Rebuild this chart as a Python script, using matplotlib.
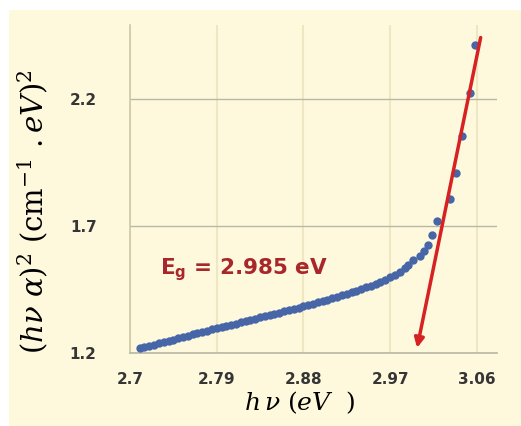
import numpy as np
import matplotlib.pyplot as plt
from matplotlib.patches import Rectangle

plt.rcParams['mathtext.fontset'] = 'custom'
plt.rcParams['mathtext.rm'] = 'DejaVu Serif'
plt.rcParams['mathtext.it'] = 'DejaVu Serif:italic'
plt.rcParams['mathtext.bf'] = 'DejaVu Sans:bold'

# (h nu) in eV and (h nu alpha)^2
hv = [2.710, 2.715, 2.720, 2.725, 2.730, 2.735, 2.740, 2.745, 2.750, 2.755,
      2.760, 2.765, 2.770, 2.775, 2.780, 2.785, 2.790, 2.795, 2.800, 2.805,
      2.810, 2.815, 2.820, 2.825, 2.830, 2.835, 2.840, 2.845, 2.850, 2.855,
      2.860, 2.865, 2.870, 2.875, 2.880, 2.885, 2.890, 2.895, 2.900, 2.905,
      2.910, 2.915, 2.920, 2.925, 2.930, 2.935, 2.940, 2.945, 2.950, 2.955,
      2.960, 2.965, 2.970, 2.975, 2.980, 2.985, 2.989, 2.994, 3.001, 3.005,
      3.009, 3.014, 3.019, 3.032, 3.038, 3.045, 3.053, 3.058]
ahv2 = [1.218, 1.223, 1.228, 1.233, 1.238, 1.243, 1.248, 1.253, 1.258, 1.263,
        1.268, 1.273, 1.278, 1.283, 1.288, 1.293, 1.298, 1.302, 1.307, 1.312,
        1.316, 1.321, 1.326, 1.330, 1.335, 1.340, 1.345, 1.349, 1.354, 1.359,
        1.364, 1.368, 1.373, 1.378, 1.383, 1.388, 1.393, 1.399, 1.404, 1.410,
        1.415, 1.421, 1.427, 1.432, 1.438, 1.444, 1.451, 1.458, 1.465, 1.472,
        1.480, 1.489, 1.498, 1.508, 1.520, 1.534, 1.548, 1.564, 1.583, 1.603,
        1.623, 1.666, 1.718, 1.805, 1.908, 2.054, 2.224, 2.410]

# linear fit line (top end, arrow tip)
fit_x = [3.064, 2.998]
fit_y = [2.441, 1.220]

xticks = [2.7, 2.79, 2.88, 2.97, 3.06]
yticks = [1.2, 1.7, 2.2]

bg = '#FEF9DC'
fig = plt.figure(figsize=(5.21, 4.26), dpi=100, facecolor='white')
fig.patches.append(Rectangle((9 / 521, 0), 1, 416 / 426, transform=fig.transFigure,
                             facecolor=bg, edgecolor='none', zorder=-5))
ax = fig.add_axes([0.2495, 0.1714, 0.7045, 0.7696], facecolor=bg)

ax.plot(hv, ahv2, 'o', color='#4666A8', ms=6, mew=0, zorder=3)

ax.annotate('', xy=(fit_x[1], fit_y[1]), xytext=(fit_x[0], fit_y[0]),
            arrowprops=dict(arrowstyle='-|>', color='#D62222', lw=2.5,
                            mutation_scale=14, shrinkA=0, shrinkB=0),
            zorder=4)

ax.text(2.731, 1.53, r'E$_\mathbf{g}$ = 2.985 eV', color='#A8272B',
        fontsize=15.5, fontweight='bold', family='DejaVu Sans', va='center')

ax.set_xlim(2.7, 3.081)
ax.set_ylim(1.2, 2.49)
ax.set_xticks(xticks)
ax.set_xticklabels(['2.7', '2.79', '2.88', '2.97', '3.06'])
ax.set_yticks(yticks)
ax.set_yticklabels(['1.2', '1.7', '2.2'])
ax.tick_params(length=0, labelsize=11, labelcolor='#353535')
ax.tick_params(axis='x', pad=14)
ax.tick_params(axis='y', pad=24)
for lab in ax.get_xticklabels() + ax.get_yticklabels():
    lab.set_fontweight('bold')

ax.grid(axis='y', color='#B9B7A6', lw=1)
ax.grid(axis='x', color='#EFE7C2', lw=1.5)
ax.set_axisbelow(True)
for s in ['top', 'right']:
    ax.spines[s].set_visible(False)
ax.spines['left'].set_color('#CFC8A8')
ax.spines['bottom'].set_color('#B9B7A6')
ax.spines['left'].set_linewidth(1.2)
ax.spines['bottom'].set_linewidth(1.2)

ax.set_xlabel(r'$h\,\nu\ (eV\ \ )$', fontsize=18)
ax.xaxis.set_label_coords(0.463, -0.112)
ax.set_ylabel(r'$(h\nu\ \alpha)^2\ (\mathrm{cm}^{-1}\ .eV)^2$', fontsize=21)
ax.yaxis.set_label_coords(-0.218, 0.43)

plt.savefig('out.png', dpi=100, facecolor='white')
